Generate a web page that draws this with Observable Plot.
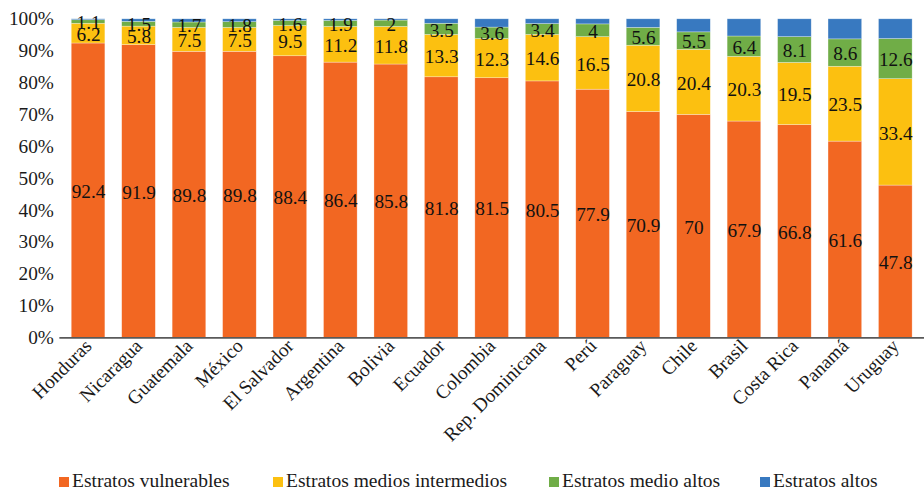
<!DOCTYPE html>
<html>
<head>
<meta charset="utf-8">
<script src="https://cdn.jsdelivr.net/npm/d3@7"></script>
<script src="https://cdn.jsdelivr.net/npm/@observablehq/plot@0.6"></script>
<style>
  html, body { margin: 0; padding: 0; background: #fff; overflow: hidden; }
  #wrap { position: relative; width: 924px; height: 490px; overflow: hidden; font-family: "Liberation Serif", "Times New Roman", serif; }
  #legend { position: absolute; top: 470px; left: 0; width: 924px; height: 22px; font-size: 19.5px; color: #1a1a1a; }
  .item { position: absolute; top: 0; white-space: nowrap; line-height: 22px; }
  .sw { display: inline-block; width: 10px; height: 10px; margin-right: 3px; vertical-align: 0px; }
</style>
</head>
<body>
<div id="wrap"><div id="chart"></div><div id="legend"></div></div>
<script>
const countries = ["Honduras","Nicaragua","Guatemala","México","El Salvador","Argentina","Bolivia","Ecuador","Colombia","Rep. Dominicana","Perú","Paraguay","Chile","Brasil","Costa Rica","Panamá","Uruguay"];
const series = ["Estratos vulnerables","Estratos medios intermedios","Estratos medio altos","Estratos altos"];
const vulnerables = [92.4,91.9,89.8,89.8,88.4,86.4,85.8,81.8,81.5,80.5,77.9,70.9,70,67.9,66.8,61.6,47.8];
const mediosIntermedios = [6.2,5.8,7.5,7.5,9.5,11.2,11.8,13.3,12.3,14.6,16.5,20.8,20.4,20.3,19.5,23.5,33.4];
const medioAltos = [1.1,1.5,1.7,1.8,1.6,1.9,2,3.5,3.6,3.4,4,5.6,5.5,6.4,8.1,8.6,12.6];
const altos = [0.3,0.8,1.0,0.9,0.5,0.5,0.4,1.4,2.6,1.5,1.6,2.7,4.1,5.4,5.6,6.3,6.2];
const yTicks = [0,10,20,30,40,50,60,70,80,90,100];
const colors = ["#F26722","#FCC010","#70AD47","#3879C0"];

const valuesBySeries = [vulnerables, mediosIntermedios, medioAltos, altos];
const data = [];
series.forEach((s, si) => countries.forEach((c, ci) => data.push({country: c, serie: s, value: valuesBySeries[si][ci]})));
const labelData = data.filter(d => d.serie !== "Estratos altos");

const chart = Plot.plot({
  width: 934,
  height: 460,
  marginLeft: 60,
  marginRight: 0,
  marginTop: 19,
  marginBottom: 119,
  style: { fontFamily: '"Liberation Serif", "Times New Roman", serif', fontSize: "19.5px", color: "#1a1a1a", background: "#fff" },
  x: { domain: countries, paddingInner: 0.34, paddingOuter: 0.17, label: null, tickSize: 0, tickRotate: -45, tickPadding: 5 },
  y: { domain: [0, 100], label: null, ticks: yTicks, tickFormat: d => d + "%", tickSize: 0, tickPadding: 6 },
  color: { domain: series, range: colors },
  marks: [
    Plot.barY(data, Plot.stackY({ x: "country", y: "value", fill: "serie", z: "serie", order: series, stroke: "#fff", strokeOpacity: 0.5, strokeWidth: 0.6 })),
    Plot.text(labelData, Plot.stackY({ x: "country", y: "value", z: "serie", order: series, text: d => String(d.value), fill: "#111", fontSize: 19.5, dy: 1 })),
    Plot.ruleY([0], { stroke: "#595959", strokeWidth: 1.6 })
  ]
});
document.getElementById("chart").appendChild(chart);

const legendX = [59, 273, 549, 760];
const legend = document.getElementById("legend");
series.forEach((s, i) => {
  const el = document.createElement("div");
  el.className = "item";
  el.style.left = legendX[i] + "px";
  el.innerHTML = `<span class="sw" style="background:${colors[i]}"></span>${s}`;
  legend.appendChild(el);
});
</script>
</body>
</html>
